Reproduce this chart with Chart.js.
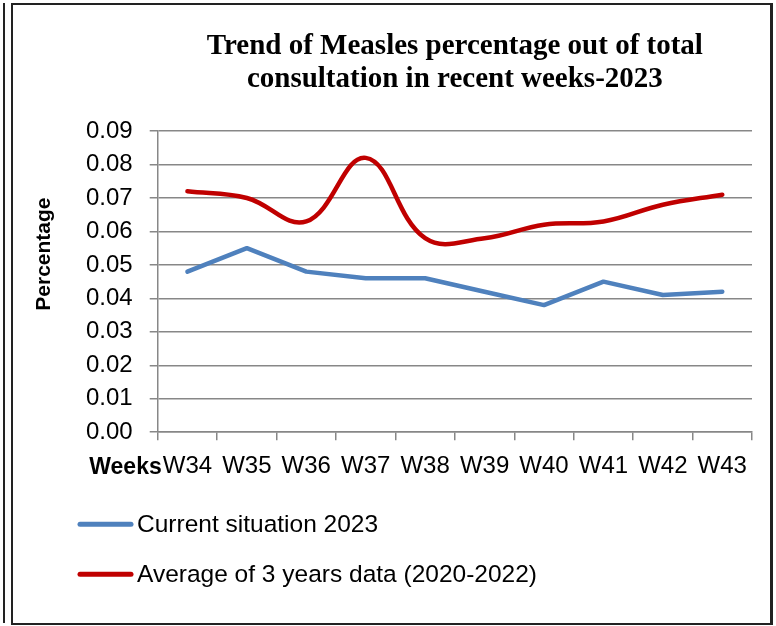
<!DOCTYPE html>
<html>
<head>
<meta charset="utf-8">
<script src="https://cdn.jsdelivr.net/npm/chart.js@4.4.1/dist/chart.umd.min.js"></script>
<style>
    html, body { margin: 0; padding: 0; background: #fff; }
    #wrap { position: relative; width: 776px; height: 626px; }
    #chart { position: absolute; left: 0; top: 0; }
    .frame { position: absolute; left: 11px; top: 3px; width: 757px; height: 618px; border: 2px solid #222; border-right-width: 3px; pointer-events: none; }
    .edge { position: absolute; left: 3px; top: 3px; width: 2px; height: 620px; background: #222; pointer-events: none; }
</style>
</head>
<body>
<div id="wrap">
    <canvas id="chart" width="776" height="626"></canvas>
    <div class="edge"></div>
    <div class="frame"></div>
</div>
<script>
const weeks = ['W34', 'W35', 'W36', 'W37', 'W38', 'W39', 'W40', 'W41', 'W42', 'W43'];
const current2023 = [0.048, 0.055, 0.048, 0.046, 0.046, 0.042, 0.038, 0.045, 0.041, 0.042];
const avg3Years = [0.072, 0.070, 0.063, 0.082, 0.058, 0.058, 0.062, 0.063, 0.068, 0.071];
const titleLines = ['Trend of Measles percentage out of total', 'consultation in recent weeks-2023'];

const gridColor = '#878787';

// axis titles and legend drawn by hand, Excel style
const extras = {
    id: 'extras',
    afterDraw(chart) {
        const ctx = chart.ctx;
        const area = chart.chartArea;
        const xs = chart.scales.x;
        ctx.save();
        ctx.fillStyle = '#000';

        // y axis title
        ctx.save();
        ctx.translate(44, area.top + 123);
        ctx.rotate(-Math.PI / 2);
        ctx.font = 'bold 21px "Liberation Sans", Arial, sans-serif';
        ctx.textAlign = 'center';
        ctx.textBaseline = 'middle';
        ctx.fillText('Percentage', 0, 0);
        ctx.restore();

        // x axis title, left of the labels
        ctx.font = 'bold 23px "Liberation Sans", Arial, sans-serif';
        ctx.textAlign = 'right';
        ctx.textBaseline = 'middle';
        ctx.fillText('Weeks', area.left + 4, xs.top + 35);

        // legend
        ctx.font = '24.5px "Liberation Sans", Arial, sans-serif';
        ctx.textAlign = 'left';
        chart.data.datasets.forEach((ds, i) => {
            const y = xs.top + 92 + i * 50;
            ctx.strokeStyle = ds.borderColor;
            ctx.lineWidth = 5;
            ctx.lineCap = 'round';
            ctx.beginPath();
            ctx.moveTo(80, y);
            ctx.lineTo(131, y);
            ctx.stroke();
            ctx.fillText(ds.label, 137, y + 1);
        });
        ctx.restore();
    }
};

const chartCtx = document.getElementById('chart').getContext('2d');
const chart = new Chart(chartCtx, {
    type: 'line',
    data: {
        labels: weeks,
        datasets: [
            {
                label: 'Current situation 2023',
                data: current2023,
                borderColor: '#4F81BD',
                borderWidth: 4.5,
                tension: 0,
                pointRadius: 0,
                borderCapStyle: 'round',
                borderJoinStyle: 'round',
                fill: false
            },
            {
                label: 'Average of 3 years data (2020-2022)',
                data: avg3Years,
                borderColor: '#C00000',
                borderWidth: 4.5,
                tension: 0.4,
                pointRadius: 0,
                borderCapStyle: 'round',
                borderJoinStyle: 'round',
                fill: false
            }
        ]
    },
    options: {
        responsive: false,
        animation: false,
        layout: { padding: { left: 69, right: 24, top: 0, bottom: 133 } },
        plugins: {
            legend: { display: false },
            tooltip: { enabled: false },
            title: {
                display: true,
                text: titleLines,
                fullSize: false,
                color: '#000',
                font: { family: '"Liberation Serif", "Times New Roman", serif', size: 29, weight: 'bold', lineHeight: 1.14 },
                padding: { top: 30, bottom: 35 }
            }
        },
        scales: {
            x: {
                offset: true,
                grid: { drawOnChartArea: false, drawTicks: true, tickLength: 8, color: gridColor, lineWidth: 1.5, offset: true },
                border: { color: gridColor, width: 1.5 },
                ticks: { color: '#000', padding: 12, maxRotation: 0, font: { family: '"Liberation Sans", Arial, sans-serif', size: 24 } }
            },
            y: {
                min: 0,
                max: 0.09,
                ticks: {
                    stepSize: 0.01,
                    color: '#000',
                    padding: 17,
                    font: { family: '"Liberation Sans", Arial, sans-serif', size: 24 },
                    callback: v => v.toFixed(2)
                },
                grid: { color: gridColor, lineWidth: 1.5, tickLength: 8 },
                border: { color: gridColor, width: 1.5 }
            }
        }
    },
    plugins: [extras]
});
</script>
</body>
</html>
